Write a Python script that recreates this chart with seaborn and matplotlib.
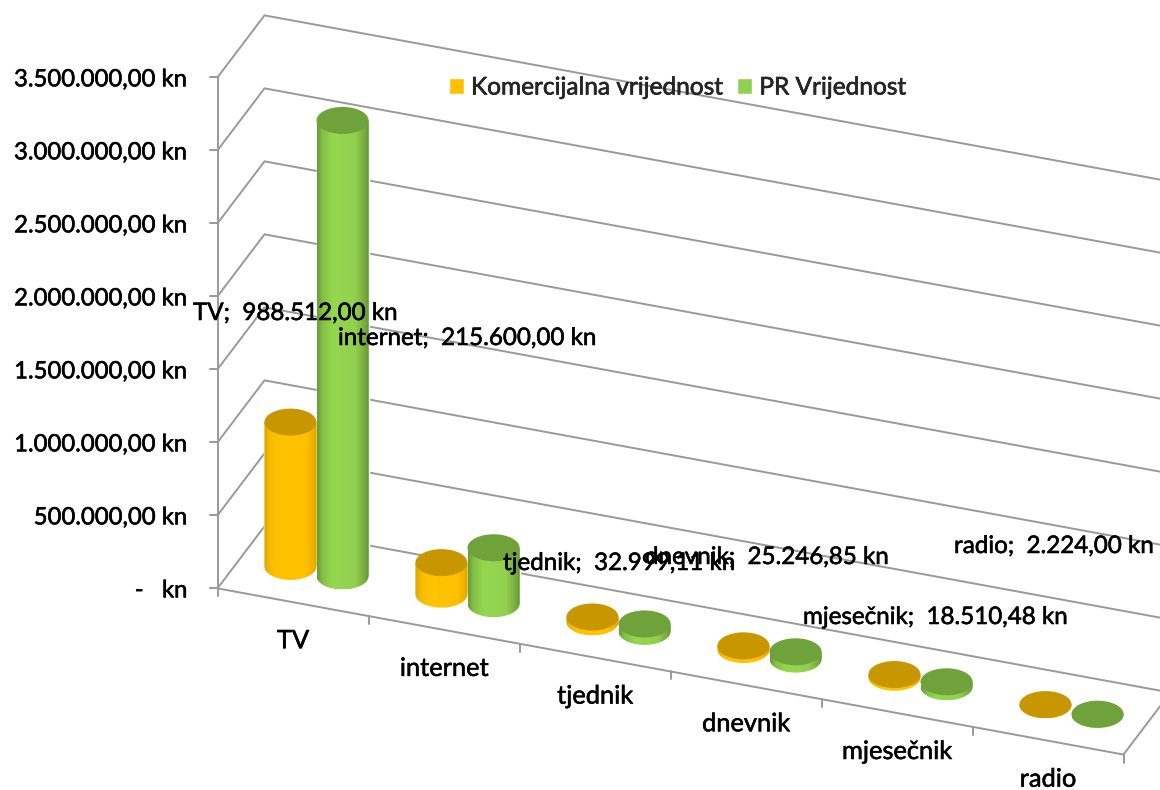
import numpy as np
import pandas as pd
import matplotlib
matplotlib.use("Agg")
import matplotlib.pyplot as plt
import matplotlib.patheffects as pe
from matplotlib.colors import LinearSegmentedColormap
from matplotlib.patches import Ellipse
from matplotlib.path import Path
from matplotlib.text import Text
import seaborn as sns

categories = ["TV", "internet", "tjednik", "dnevnik", "mjesečnik", "radio"]
series_names = ["Komercijalna vrijednost", "PR Vrijednost"]
commercial_values = [988512.00, 215600.00, 32999.11, 25246.85, 18510.48, 2224.00]
pr_values = [3120000, 383000, 51000, 50000, 34000, 2000]
value_ticks = [0, 500000, 1000000, 1500000, 2000000, 2500000, 3000000, 3500000]
value_tick_labels = ["-   kn", "500.000,00 kn", "1.000.000,00 kn", "1.500.000,00 kn",
                     "2.000.000,00 kn", "2.500.000,00 kn", "3.000.000,00 kn", "3.500.000,00 kn"]

# left / baseline of the data labels, in picture pixels
label_px = [(193, 320), (338, 345), (503, 570), (645, 564), (803, 624), (954, 553)]

WIDTH, HEIGHT = 1160, 790
TICK_SIZE = 17.2
CAT_SIZE = 18.3
LABEL_SIZE = 17.4
LEGEND_SIZE = 17.6
KN_PX = 73 / 500000          # pixels per kuna
CAT_PX = 151                 # pixels per category
X_ORIGIN = 316.5             # pixel x of category 0
Y_ORIGIN = 571.2             # pixel y of value 0 at category 0
SLOPE = 27.7 / KN_PX         # floor drop per category, in kuna
DEPTH_X = 23.5 / CAT_PX
DEPTH_Y = 31 / KN_PX
CAP_H = 27 / KN_PX
GRID = "#999999"
GRID_LW = 1.4

palette = {series_names[0]: "#FFC000", series_names[1]: "#92D050"}
cap_colors = ["#C89700", "#6FA23B"]
body_maps = [
    LinearSegmentedColormap.from_list("o", [(0, "#DCA600"), (0.12, "#F8BC00"), (0.3, "#FFC400"),
                                            (0.8, "#FFC000"), (0.93, "#EDB200"), (1, "#D8A200")]),
    LinearSegmentedColormap.from_list("g", [(0, "#669A36"), (0.1, "#84BF46"), (0.3, "#94D84F"),
                                            (0.72, "#92D050"), (0.9, "#78AC40"), (1, "#5F8F33")]),
]


def project(cat, value, depth=0):
    """Category/value/depth to the sheared position used in the axes."""
    return cat + depth * DEPTH_X, value - SLOPE * cat + depth * DEPTH_Y


def fmt_kn(value):
    text = f"{value:,.2f}".replace(",", "#").replace(".", ",").replace("#", ".")
    return f"{text} kn"


def draw_walls(ax):
    left, right = -0.5, len(categories) - 0.5
    for value in value_ticks:
        pts = [project(left, value, -1), project(left, value, 1), project(right, value, 1)]
        ax.plot(*zip(*pts), color=GRID, lw=GRID_LW, zorder=1)
    # value axis and floor edges
    ax.plot(*zip(project(left, 0, -1), project(left, value_ticks[-1], -1)), color=GRID, lw=GRID_LW, zorder=1)
    ax.plot(*zip(project(left, 0, -1), project(right, 0, -1)), color=GRID, lw=GRID_LW, zorder=1)
    ax.plot(*zip(project(right, 0, -1), project(right, 0, 1)), color=GRID, lw=GRID_LW, zorder=1)
    # ticks
    for cat in np.arange(left, right + 1):
        x, y = project(cat, 0, -1)
        ax.plot([x, x], [y, y - 8 / KN_PX], color=GRID, lw=GRID_LW, zorder=1)
    for value, label in zip(value_ticks, value_tick_labels):
        x, y = project(left, value, -1)
        ax.plot([x - 8 / CAT_PX, x], [y, y], color=GRID, lw=GRID_LW, zorder=1)
        ax.annotate(label, (x, y), xytext=(-30, -9), textcoords="offset pixels",
                    ha="right", va="baseline", fontsize=TICK_SIZE, color="black")
    for i, label in enumerate(categories):
        ax.annotate(label, project(i, 0, -1), xytext=(0, -46), textcoords="offset pixels",
                    ha="center", va="baseline", fontsize=CAT_SIZE, color="black")


def make_cylinders(ax):
    """Turns the flat seaborn bars into cylinders standing on the sloped floor."""
    grad = np.linspace(0, 1, 256).reshape(1, -1)
    angles = np.linspace(np.pi, 2 * np.pi, 60)
    for s, container in enumerate(ax.containers):
        for bar in container:
            x0, w, h = bar.get_x(), bar.get_width(), bar.get_height()
            xc = x0 + w / 2
            base = -SLOPE * xc
            top = base + h
            z = 3 + xc
            bar.set_y(base)
            bar.set_zorder(z)
            outline = np.column_stack([
                np.r_[x0, xc + w / 2 * np.cos(angles), x0 + w],
                np.r_[top, base + CAP_H / 2 * np.sin(angles), top],
            ])
            im = ax.imshow(grad, cmap=body_maps[s], aspect="auto", interpolation="bilinear",
                           extent=(x0, x0 + w, base - CAP_H / 2, top), zorder=z + 0.01)
            im.set_clip_path(Path(outline), ax.transData)
            ax.add_patch(Ellipse((xc, top), w, CAP_H, facecolor=cap_colors[s], edgecolor="none", zorder=z + 0.02))


sns.set_theme(style="white")
plt.rcParams["font.family"] = ["Lato", "DejaVu Sans"]

df = pd.DataFrame({
    "category": categories * 2,
    "series": [series_names[0]] * 6 + [series_names[1]] * 6,
    "value": commercial_values + pr_values,
})

fig = plt.figure(figsize=(WIDTH / 100, HEIGHT / 100), dpi=100)
ax = fig.add_axes([0, 0, 1, 1])
sns.barplot(data=df, x="category", y="value", hue="series", hue_order=series_names, order=categories,
            palette=palette, saturation=1, width=0.69, gap=0, errorbar=None, ax=ax)

make_cylinders(ax)
draw_walls(ax)

ax.set_xlim(-X_ORIGIN / CAT_PX, (WIDTH - X_ORIGIN) / CAT_PX)
ax.set_ylim((Y_ORIGIN - HEIGHT) / KN_PX, Y_ORIGIN / KN_PX)
ax.set_axis_off()

sns.move_legend(ax, "center left", bbox_to_anchor=(448.5 / WIDTH, 1 - 88 / HEIGHT), ncol=2, title=None,
                frameon=False, fontsize=LEGEND_SIZE, borderpad=0, borderaxespad=0,
                handlelength=0.62, handleheight=0.6, handletextpad=0.3, columnspacing=0.55)

for (px, py), cat, value in zip(label_px, categories, commercial_values):
    fig.text(px / WIDTH, 1 - py / HEIGHT, f"{cat};  {fmt_kn(value)}", ha="left", va="baseline",
             fontsize=LABEL_SIZE, color="black", zorder=20)

# the reference text is a little heavier than Lato regular
for txt in fig.findobj(Text):
    txt.set_path_effects([pe.withStroke(linewidth=0.4, foreground="black")])

fig.savefig("out.png", dpi=100)
